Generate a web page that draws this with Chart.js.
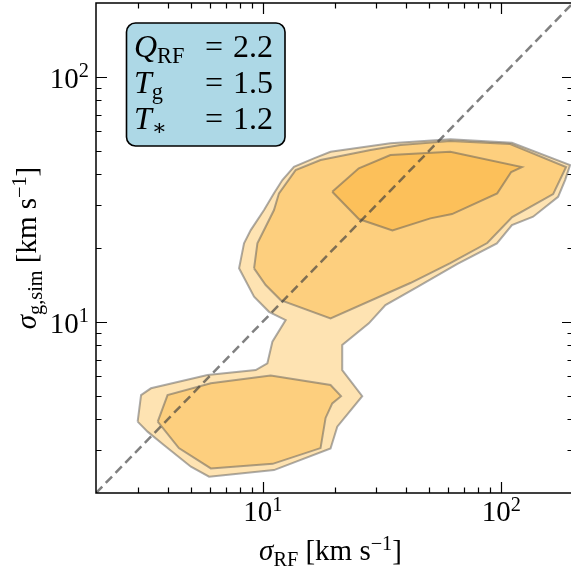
<!DOCTYPE html>
<html>
<head>
<meta charset="utf-8">
<script src="https://cdn.jsdelivr.net/npm/chart.js@4/dist/chart.umd.min.js"></script>
<style>
  html, body { margin: 0; padding: 0; background: #fff; overflow: hidden; }
  #wrap { width: 576px; height: 570px; }
</style>
</head>
<body>
<div id="wrap"><canvas id="sigmaChart" width="576" height="570"></canvas></div>
<script>
// contour levels (km/s)
const outerX = [2.99, 3.09, 3.40, 5.87, 9.35, 10.46, 10.98, 12.48, 10.63, 9.20, 7.96, 8.35, 8.91, 10.13, 11.15, 12.09, 13.52, 16.39, 19.25, 34.32, 61.17, 110.9, 194.4, 185.3, 173.2, 136.1, 110.9, 95.9, 65.25, 44.40, 32.70, 27.86, 21.55, 21.55, 26.14, 20.54, 19.25, 11.15, 5.96, 5.00, 3.85, 3.29];
const outerY = [3.91, 5.02, 5.35, 6.06, 6.35, 6.77, 8.29, 10.16, 10.98, 12.65, 16.52, 20.89, 23.67, 28.57, 33.43, 37.87, 42.92, 46.45, 49.42, 53.48, 55.52, 53.78, 43.61, 37.87, 32.37, 26.83, 24.81, 20.89, 17.2, 13.86, 11.7, 9.85, 8.03, 6.35, 4.97, 3.73, 3.04, 2.48, 2.33, 2.56, 3.14, 3.56];

const midTopX = [9.20, 9.50, 10.29, 11.15, 11.70, 13.74, 17.48, 28.31, 37.78, 61.17, 109.1, 187.1, 165.1, 111.2, 87.4, 61.17, 41.6, 19.25, 11.89, 10.29];
const midTopY = [16.52, 20.89, 24.42, 28.57, 33.43, 41.61, 45.71, 50.21, 52.63, 54.64, 53.12, 42.80, 33.20, 26.75, 20.95, 17.36, 14.39, 10.32, 12.26, 14.12];

const midLowX = [3.63, 3.99, 6.06, 10.80, 19.25, 21.30, 19.57, 18.35, 17.48, 11.01, 6.06, 4.45];
const midLowY = [3.91, 5.02, 5.61, 6.03, 5.52, 4.97, 4.64, 4.05, 3.05, 2.63, 2.52, 3.05];

const innerX = [19.57, 25.29, 34.32, 61.17, 122.1, 110.1, 96.2, 62.2, 50.47, 34.99, 25.29];
const innerY = [33.94, 42.28, 47.91, 49.42, 42.80, 40.83, 33.43, 27.52, 26.42, 23.56, 26.26];

// one-to-one line
const diagX = [2, 200];
const diagY = [2, 200];

// axes
const axisMin = 2;
const axisMax = 200;
const majorTicks = [10, 100];
const majorLabels = ['1', '2'];   // exponents of 10
const minorTicks = [3, 4, 5, 6, 7, 8, 9, 20, 30, 40, 50, 60, 70, 80, 90];

const boxLines = [
  { sym: 'Q', sub: 'RF', val: '2.2' },
  { sym: 'T', sub: 'g', val: '1.5' },
  { sym: 'T', sub: '\u2217', val: '1.2' }
];

const FONT = '"Liberation Serif", "DejaVu Serif", serif';

const closed = (xs, ys) => xs.map((v, i) => ({ x: v, y: ys[i] })).concat([{ x: xs[0], y: ys[0] }]);

function setFont(ctx, italic, size) {
  ctx.font = (italic ? 'italic ' : '') + size + 'px ' + FONT;
}

// parts: [text, kind]  kind: i = italic, r = roman, sb = roman subscript, sp = roman superscript
function partWidth(ctx, p, S) {
  const small = p[1] === 'sb' || p[1] === 'sp';
  setFont(ctx, p[1] === 'i', small ? S * 0.7 : S);
  return ctx.measureText(p[0]).width;
}
function mathText(ctx, parts, x, y, S, align) {
  let total = 0;
  parts.forEach(p => { total += partWidth(ctx, p, S); });
  let cx = align === 'center' ? x - total / 2 : align === 'right' ? x - total : x;
  ctx.textAlign = 'left';
  ctx.textBaseline = 'alphabetic';
  parts.forEach(p => {
    const w = partWidth(ctx, p, S);
    let dy = 0;
    if (p[1] === 'sb') dy = S * 0.2;
    if (p[1] === 'sp') dy = -S * 0.36;
    ctx.fillText(p[0], cx, y + dy);
    cx += w;
  });
}

const decor = {
  id: 'decor',
  afterDraw(chart) {
    const { ctx, chartArea: a, scales } = chart;
    const xs = scales.x, ys = scales.y;
    ctx.save();
    ctx.fillStyle = '#000';
    ctx.strokeStyle = '#000';

    // ticks, inward on all four sides
    const drawTicks = (vals, len) => {
      ctx.lineWidth = 1.2;
      ctx.beginPath();
      vals.forEach(v => {
        const px = Math.round(xs.getPixelForValue(v)) + 0.5;
        ctx.moveTo(px, a.bottom); ctx.lineTo(px, a.bottom - len);
        ctx.moveTo(px, a.top); ctx.lineTo(px, a.top + len);
        const py = Math.round(ys.getPixelForValue(v)) + 0.5;
        ctx.moveTo(a.left, py); ctx.lineTo(a.left + len, py);
        ctx.moveTo(a.right, py); ctx.lineTo(a.right - len, py);
      });
      ctx.stroke();
    };
    drawTicks(majorTicks, 11);
    drawTicks(minorTicks, 5.5);

    // frame
    ctx.lineWidth = 1.5;
    ctx.strokeRect(a.left, a.top, a.right - a.left, a.bottom - a.top);

    // tick labels
    majorTicks.forEach((v, i) => {
      const px = xs.getPixelForValue(v);
      mathText(ctx, [['10', 'r'], [majorLabels[i], 'sp']], px, 521, 29, 'center');
      const py = ys.getPixelForValue(v);
      mathText(ctx, [['10', 'r'], [majorLabels[i], 'sp']], 89, py + 11, 29, 'right');
    });

    // axis titles
    mathText(ctx, [['\u03c3', 'i'], ['RF', 'sb'], [' [km s', 'r'], ['\u22121', 'sp'], [']', 'r']],
      (a.left + a.right) / 2 - 4, 560, 29, 'center');
    ctx.save();
    ctx.translate(36, (a.top + a.bottom) / 2);
    ctx.rotate(-Math.PI / 2);
    mathText(ctx, [['\u03c3', 'i'], ['g,sim', 'sb'], [' [km s', 'r'], ['\u22121', 'sp'], [']', 'r']],
      0, 0, 29, 'center');
    ctx.restore();

    // parameter box
    const bx = 126.5, by = 23, bw = 158.5, bh = 123;
    ctx.beginPath();
    ctx.roundRect(bx, by, bw, bh, 9);
    ctx.fillStyle = '#add8e6';
    ctx.fill();
    ctx.lineWidth = 1.6;
    ctx.strokeStyle = '#000';
    ctx.stroke();
    ctx.fillStyle = '#000';
    boxLines.forEach((ln, i) => {
      const base = 57 + i * 35.8;
      mathText(ctx, [[ln.sym, 'i'], [ln.sub, 'sb']], 134, base, 32, 'left');
      mathText(ctx, [['=', 'r']], 205, base, 32, 'left');
      mathText(ctx, [[ln.val, 'r']], 233, base, 32, 'left');
    });
    ctx.restore();
  }
};

const edge = 'rgba(90, 90, 90, 0.5)';

new Chart(document.getElementById('sigmaChart'), {
  type: 'scatter',
  data: {
    datasets: [
      {
        label: 'outer',
        data: closed(outerX, outerY),
        showLine: true, fill: 'shape', tension: 0,
        backgroundColor: '#fee3b2', borderColor: edge, borderWidth: 2,
        pointRadius: 0, order: 5
      },
      {
        label: 'middle (upper)',
        data: closed(midTopX, midTopY),
        showLine: true, fill: 'shape', tension: 0,
        backgroundColor: '#fdcf7e', borderColor: edge, borderWidth: 2,
        pointRadius: 0, order: 4
      },
      {
        label: 'middle (lower)',
        data: closed(midLowX, midLowY),
        showLine: true, fill: 'shape', tension: 0,
        backgroundColor: '#fdcf7e', borderColor: edge, borderWidth: 2,
        pointRadius: 0, order: 4
      },
      {
        label: 'inner',
        data: closed(innerX, innerY),
        showLine: true, fill: 'shape', tension: 0,
        backgroundColor: '#fcc05a', borderColor: edge, borderWidth: 2,
        pointRadius: 0, order: 3
      },
      {
        label: '1:1',
        data: diagX.map((v, i) => ({ x: v, y: diagY[i] })),
        showLine: true, fill: false,
        borderColor: 'rgba(60, 60, 60, 0.65)', borderWidth: 2.5, borderDash: [9, 5],
        pointRadius: 0, order: 1
      }
    ]
  },
  options: {
    responsive: false,
    animation: false,
    layout: { padding: { left: 96, right: 3, top: 3, bottom: 77 } },
    plugins: { legend: { display: false }, tooltip: { enabled: false } },
    scales: {
      x: { type: 'logarithmic', min: axisMin, max: axisMax, display: false },
      y: { type: 'logarithmic', min: axisMin, max: axisMax, display: false }
    }
  },
  plugins: [decor]
});
</script>
</body>
</html>
